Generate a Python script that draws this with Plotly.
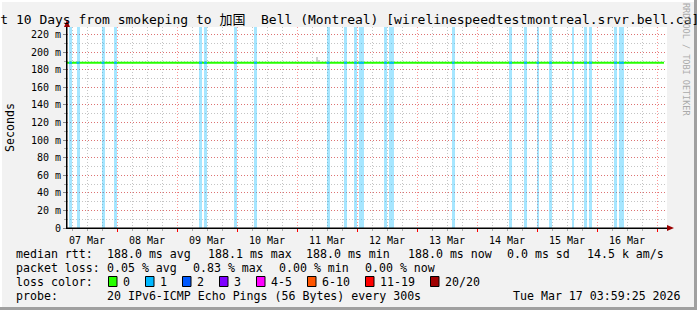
import plotly.graph_objects as go
import pandas as pd

# ---------------- data ----------------
title_text = "Last 10 Days from smokeping to 加国  Bell (Montreal) [wirelinespeedtestmontreal.srvr.bell.ca]"
range_start = "2026-03-07 04:00"
range_end = "2026-03-17 04:00"

median_times = ["2026-03-07 04:00", "2026-03-17 02:48"]
median_rtt_ms = [188.0, 188.0]

loss_start = ["2026-03-07 04:48", "2026-03-07 07:48", "2026-03-07 17:48", "2026-03-07 22:48",
              "2026-03-09 08:48", "2026-03-09 10:48", "2026-03-09 22:48", "2026-03-10 06:48",
              "2026-03-11 11:48", "2026-03-11 18:48", "2026-03-11 22:48", "2026-03-12 00:36",
              "2026-03-12 10:48", "2026-03-12 12:54", "2026-03-13 14:00", "2026-03-14 12:48",
              "2026-03-14 18:48", "2026-03-14 23:48", "2026-03-15 04:48", "2026-03-15 14:00",
              "2026-03-15 18:48", "2026-03-15 20:48", "2026-03-16 06:48", "2026-03-16 08:48"]
loss_end = ["2026-03-07 06:00", "2026-03-07 09:00", "2026-03-07 19:00", "2026-03-08 00:00",
            "2026-03-09 10:00", "2026-03-09 12:00", "2026-03-10 00:00", "2026-03-10 08:00",
            "2026-03-11 13:00", "2026-03-11 20:00", "2026-03-12 00:00", "2026-03-12 02:48",
            "2026-03-12 12:00", "2026-03-12 14:48", "2026-03-13 15:00", "2026-03-14 14:00",
            "2026-03-14 20:00", "2026-03-15 00:48", "2026-03-15 06:00", "2026-03-15 14:48",
            "2026-03-15 20:00", "2026-03-15 22:00", "2026-03-16 08:00", "2026-03-16 10:48"]

smoke_start = ["2026-03-11 07:48", "2026-03-11 08:12"]
smoke_end = ["2026-03-11 08:12", "2026-03-11 09:00"]
smoke_max_ms = [195.0, 191.0]

y_tickvals = [0, 20, 40, 60, 80, 100, 120, 140, 160, 180, 200, 220]
y_ticktext = ["0", "20 m", "40 m", "60 m", "80 m", "100 m", "120 m", "140 m",
              "160 m", "180 m", "200 m", "220 m"]
x_tick_days = ["2026-03-07", "2026-03-08", "2026-03-09", "2026-03-10", "2026-03-11",
               "2026-03-12", "2026-03-13", "2026-03-14", "2026-03-15", "2026-03-16"]
x_ticktext = ["07 Mar", "08 Mar", "09 Mar", "10 Mar", "11 Mar",
              "12 Mar", "13 Mar", "14 Mar", "15 Mar", "16 Mar"]

rtt_stat_values = [188.0, 188.1, 188.0, 188.0]
rtt_stat_names = ["avg", "max", "min", "now"]
rtt_sd = 0.0
rtt_ams = 14.5
loss_stat_values = [0.05, 0.83, 0.00, 0.00]
loss_stat_names = ["avg", "max", "min", "now"]
loss_legend_labels = ["0", "1", "2", "3", "4-5", "6-10", "11-19", "20/20"]
loss_legend_colors = ["#26ff00", "#00b8ff", "#0059ff", "#7e00ff", "#ff00ff", "#ff5500", "#ff0000", "#a00000"]
probe_text = "20 IPv6-ICMP Echo Pings (56 Bytes) every 300s"
timestamp_text = "Tue Mar 17 03:59:25 2026"
credit_text = "RRDTOOL / TOBI OETIKER"

# ---------------- layout constants ----------------
W, H = 697, 310
L, R, T, B = 67, 30, 27, 82
PW, PH = W - L - R, H - T - B
Y_MAX = 228.7
MONO = "DejaVu Sans Mono"


def px(x):
    return (x - L) / PW


def py(y):
    return (H - B - y) / PH


fig = go.Figure()

# loss bars
ls = pd.to_datetime(loss_start)
le = pd.to_datetime(loss_end)
mid = ls + (le - ls) / 2
widths = [(b - a).total_seconds() * 1000 for a, b in zip(ls, le)]
fig.add_trace(go.Bar(x=mid, y=[Y_MAX] * len(mid), width=widths,
                     marker=dict(color="rgba(0,184,255,0.35)", line=dict(width=0)),
                     hoverinfo="skip", showlegend=False))

# smoke
ss = pd.to_datetime(smoke_start)
se = pd.to_datetime(smoke_end)
smid = ss + (se - ss) / 2
swid = [(b - a).total_seconds() * 1000 for a, b in zip(ss, se)]
fig.add_trace(go.Bar(x=smid, y=[m - median_rtt_ms[0] for m in smoke_max_ms],
                     base=median_rtt_ms[0], width=swid,
                     marker=dict(color="#cfcfcf", line=dict(width=0)),
                     hoverinfo="skip", showlegend=False))

# median line (green) on overlay axis
fig.add_trace(go.Scatter(x=pd.to_datetime(median_times), y=median_rtt_ms, mode="lines",
                         line=dict(color=loss_legend_colors[0], width=2),
                         xaxis="x2", yaxis="y", showlegend=False, hoverinfo="skip"))

# median line coloured by loss (1/20 -> blue)
seg_x, seg_y = [], []
for a, b in zip(ls, le):
    seg_x += [a, b, None]
    seg_y += [median_rtt_ms[0], median_rtt_ms[0], None]
fig.add_trace(go.Scatter(x=seg_x, y=seg_y, mode="lines",
                         line=dict(color=loss_legend_colors[1], width=2),
                         xaxis="x2", yaxis="y", showlegend=False, hoverinfo="skip"))

noon = [pd.Timestamp(d) + pd.Timedelta(hours=12) for d in x_tick_days]

fig.update_layout(
    width=W, height=H,
    margin=dict(l=L, r=R, t=T, b=B, pad=0),
    paper_bgcolor="#f2f2f2", plot_bgcolor="#ffffff",
    bargap=0, barmode="overlay",
    showlegend=False,
    title=dict(text=title_text, x=0.485, xref="container", xanchor="center",
               y=1 - 19 / H, yref="container", yanchor="middle",
               font=dict(family=MONO + ", Noto Sans CJK SC", size=13, color="#000")),
    xaxis=dict(type="date", range=[range_start, range_end],
               tick0="2026-03-07 00:00", dtick=86400000,
               showgrid=True, gridcolor="rgba(255,0,0,0.42)", griddash="1px,2px", gridwidth=1,
               showticklabels=False, ticks="outside", ticklen=3, tickcolor="#ff0000",
               minor=dict(dtick=21600000, showgrid=True, gridcolor="#c4c4c4",
                          griddash="1px,2px", ticks="outside", ticklen=2, tickcolor="#aaaaaa"),
               showline=True, linecolor="#000", linewidth=1, zeroline=False, fixedrange=True),
    xaxis2=dict(type="date", range=[range_start, range_end], overlaying="x", anchor="y",
                side="bottom", tickmode="array", tickvals=noon, ticktext=x_ticktext,
                showgrid=False, ticks="outside", ticklen=3, tickcolor="rgba(0,0,0,0)",
                showline=False, zeroline=False,
                tickfont=dict(family=MONO, size=10, color="#000")),
    yaxis=dict(range=[0, Y_MAX], tickmode="array", tickvals=y_tickvals, ticktext=y_ticktext,
               showgrid=True, gridcolor="rgba(255,0,0,0.42)", griddash="1px,2px",
               ticks="outside", ticklen=3, tickcolor="#888",
               minor=dict(dtick=10, showgrid=True, gridcolor="#c4c4c4", griddash="1px,2px",
                          ticks="outside", ticklen=2, tickcolor="#aaaaaa"),
               showline=True, linecolor="#000", linewidth=1, zeroline=False,
               tickfont=dict(family=MONO, size=10, color="#000")),
)

ann = []
shapes = []


def text_at(x, y, s, size=11.6, anchor="left", color="#000", angle=0):
    ann.append(dict(x=px(x), y=py(y), xref="paper", yref="paper", text=s, showarrow=False,
                    xanchor=anchor, yanchor="middle", borderpad=0, borderwidth=0,
                    textangle=angle, font=dict(family=MONO, size=size, color=color)))


# y axis title
text_at(10, 128, "Seconds", anchor="center", angle=-90)
# credit
text_at(686, 59, credit_text, size=8.5, anchor="center", color="#aaaaaa", angle=90)

# row 1: median rtt
row1 = ["median rtt:"] + [f"{v:.1f} ms {n}" for v, n in zip(rtt_stat_values, rtt_stat_names)] \
       + [f"{rtt_sd:.1f} ms sd", f"{rtt_ams:.1f} k am/s"]
row1_x = [16, 107, 207.5, 306, 407.5, 506.5, 586.5]
for s, x in zip(row1, row1_x):
    text_at(x, 254, s)

# row 2: packet loss
row2 = ["packet loss:"] + [f"{v:.2f} % {n}" for v, n in zip(loss_stat_values, loss_stat_names)]
row2_x = [16, 107.3, 193.3, 279.3, 365.3]
for s, x in zip(row2, row2_x):
    text_at(x, 268, s)

# row 3: loss colours
text_at(16, 282, "loss color:")
cx = 108.5
for lab, col in zip(loss_legend_labels, loss_legend_colors):
    shapes.append(dict(type="rect", xref="paper", yref="paper",
                       x0=px(cx), x1=px(cx + 8.5), y0=py(286.5), y1=py(276.5),
                       fillcolor=col, line=dict(color="#000", width=1), layer="above"))
    text_at(cx + 14.5, 282, lab)
    cx = cx + 14.5 + 7 * len(lab) + 15.5

# row 4: probe
text_at(16, 296, "probe:")
text_at(107, 296, probe_text)
text_at(680.5, 296, timestamp_text, anchor="right")

# axis arrows
shapes.append(dict(type="line", xref="paper", yref="paper", x0=px(67), x1=px(67),
                   y0=py(228), y1=py(22), line=dict(color="#000", width=1)))
shapes.append(dict(type="path", xref="paper", yref="paper",
                   path=f"M {px(64)} {py(27)} L {px(70)} {py(27)} L {px(67)} {py(20)} Z",
                   fillcolor="#990000", line=dict(color="#990000", width=0)))
shapes.append(dict(type="line", xref="paper", yref="paper", x0=px(67), x1=px(669),
                   y0=py(228), y1=py(228), line=dict(color="#000", width=1)))
shapes.append(dict(type="path", xref="paper", yref="paper",
                   path=f"M {px(667)} {py(225)} L {px(667)} {py(231)} L {px(674)} {py(228)} Z",
                   fillcolor="#990000", line=dict(color="#990000", width=0)))

# frame
shapes.append(dict(type="rect", xref="paper", yref="paper", x0=px(694), x1=px(698),
                   y0=py(311), y1=py(-1), fillcolor="#a0a0a0", line=dict(width=0)))
shapes.append(dict(type="rect", xref="paper", yref="paper", x0=px(-1), x1=px(698),
                   y0=py(311), y1=py(307), fillcolor="#a0a0a0", line=dict(width=0)))
shapes.append(dict(type="rect", xref="paper", yref="paper", x0=px(-1), x1=px(694),
                   y0=py(2), y1=py(-1), fillcolor="#ffffff", line=dict(width=0)))
shapes.append(dict(type="rect", xref="paper", yref="paper", x0=px(-1), x1=px(2),
                   y0=py(307), y1=py(-1), fillcolor="#ffffff", line=dict(width=0)))

fig.update_layout(annotations=ann, shapes=shapes)
fig.write_html("out.html")
